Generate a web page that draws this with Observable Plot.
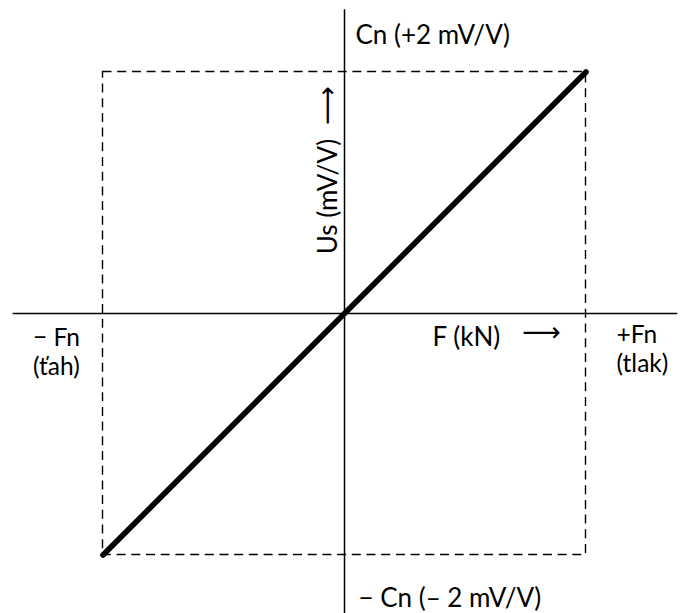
<!DOCTYPE html>
<html>
<head>
<meta charset="utf-8">
<script src="https://cdn.jsdelivr.net/npm/d3@7"></script>
<script src="https://cdn.jsdelivr.net/npm/@observablehq/plot@0.6"></script>
<style>
  html, body { margin: 0; padding: 0; background: #fff; }
</style>
</head>
<body>
<div id="chart"></div>
<script>
// Nominal range of the load cell: force in units of Fn, signal in mV/V
const forceEnds = [-1, 1];          // −Fn … +Fn
const signalEnds = [-2, 2];         // −Cn … +Cn (mV/V)
// extents of the drawn axis lines (same units)
const xAxisExtent = [-1.372, 1.380];
const yAxisExtent = [-2.49, 2.515];

// text labels
const labels = [
  {text: "Cn (+2 mV/V)", x: 0, y: 2, dx: 11, dy: -38, anchor: "start", size: 26},
  {text: "− Cn (– 2 mV/V)", x: 0, y: -2, dx: 14, dy: 42, anchor: "start", size: 26},
  {text: "− Fn\n(ťah)", x: -1, y: 0, dx: -70, dy: 38, anchor: "start", size: 24.5},
  {text: "+Fn\n(tlak)", x: 1, y: 0, dx: 30.5, dy: 35, anchor: "start", size: 24.5},
  {text: "F (kN)", x: 0, y: 0, dx: 88, dy: 23, anchor: "start", size: 26}
];
const xArrow = [{text: "⟶", x: 0, y: 0, dx: 197, dy: 19}];
const yLabel = [{text: "Us (mV/V)", x: 0, y: 0, dx: -16, dy: -117}];
const yArrow = [{text: "⟶", x: 0, y: 0, dx: -17, dy: -208}];

const W = 681, H = 613;
const cx = 344, cy = 313, half = 241.5;

const line = forceEnds.map((f, i) => ({f, s: signalEnds[i]}));
const box = [{x1: forceEnds[0], x2: forceEnds[1], y1: signalEnds[0], y2: signalEnds[1]}];

const font = "Lato, 'Open Sans', sans-serif";
const fs = 26;
const arrowFont = "'DejaVu Sans', sans-serif";
const afs = 27;

const chart = Plot.plot({
  width: W,
  height: H,
  margin: 0,
  style: {fontFamily: font, background: "white", color: "black"},
  x: {domain: [-cx / half, (W - cx) / half], axis: null},
  y: {domain: [-2 * (H - cy) / half, 2 * cy / half], axis: null},
  marks: [
    Plot.rect(box, {x1: "x1", x2: "x2", y1: "y1", y2: "y2", fill: "none", stroke: "black", strokeWidth: 1.4, strokeDasharray: "9,5.7"}),
    Plot.ruleY([0], {x1: xAxisExtent[0], x2: xAxisExtent[1], stroke: "black", strokeWidth: 1.5}),
    Plot.ruleX([0], {y1: yAxisExtent[0], y2: yAxisExtent[1], stroke: "black", strokeWidth: 1.5}),
    Plot.line(line, {x: "f", y: "s", stroke: "black", strokeWidth: 5.6, strokeLinecap: "round"}),
    ...labels.map(d => Plot.text([d], {x: "x", y: "y", text: "text", dx: d.dx, dy: d.dy, textAnchor: d.anchor, lineHeight: 1.17, fontSize: d.size, fill: "black"})),
    Plot.text(xArrow, {x: "x", y: "y", text: "text", dx: xArrow[0].dx, dy: xArrow[0].dy, fontSize: afs, fontFamily: arrowFont, fill: "black"}),
    Plot.text(yLabel, {x: "x", y: "y", text: "text", dx: yLabel[0].dx, dy: yLabel[0].dy, rotate: -90, fontSize: fs, fill: "black"}),
    Plot.text(yArrow, {x: "x", y: "y", text: "text", dx: yArrow[0].dx, dy: yArrow[0].dy, rotate: -90, fontSize: afs, fontFamily: arrowFont, fill: "black"})
  ]
});
document.getElementById("chart").appendChild(chart);
</script>
</body>
</html>
